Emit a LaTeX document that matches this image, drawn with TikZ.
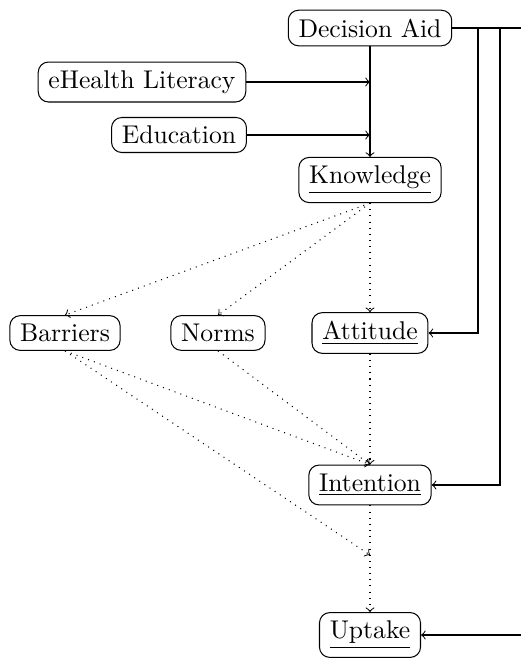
\documentclass[tikz,border=0pt]{standalone}
\begin{document}
\begin{tikzpicture}[x=0.39pt,y=-0.39pt,
  box/.style={draw,rounded corners=4pt,inner xsep=4pt,inner ysep=3.3pt,font=\normalsize},
  solidarrow/.style={->},
  dotarrow/.style={->,dotted}]
\useasboundingbox (0,0) rectangle (521,661);
\node[box] (da) at (370,28) {Decision Aid};
\node[box] (eh) at (142,82) {eHealth Literacy};
\node[box] (ed) at (179,135) {Education};
\node[box] (kn) at (370,180) {\underline{Knowledge}};
\node[box] (ba) at (65,333) {Barriers};
\node[box] (no) at (218,333) {Norms};
\node[box] (at) at (370,333) {\underline{Attitude}};
\node[box] (in) at (370,485) {\underline{Intention}};
\node[box] (up) at (370,635) {\underline{Uptake}};
\coordinate (ehj) at (kn.north |- eh.east);
\coordinate (edj) at (kn.north |- ed.east);
\coordinate (r1) at (478,0 |- da.east);
\coordinate (r2) at (500,0 |- da.east);
\coordinate (r3) at (524,0 |- da.east);
\coordinate (mid) at (370,555);
\draw[solidarrow] (da.south) -- (kn.north);
\draw[solidarrow] (eh.east) -- (ehj);
\draw[solidarrow] (ed.east) -- (edj);
\draw (da.east) -- (r3);
\draw[solidarrow] (r1) |- (at.east);
\draw[solidarrow] (r2) |- (in.east);
\draw[solidarrow] (r3) |- (up.east);
\draw[dotarrow] (kn.south) -- (at.north);
\draw[dotarrow] (kn.south) -- (ba.north);
\draw[dotarrow] (kn.south) -- (no.north);
\draw[dotarrow] (ba.south) -- (in.north);
\draw[dotarrow] (no.south) -- (in.north);
\draw[dotarrow] (at.south) -- (in.north);
\draw[dotarrow] (ba.south) -- (mid);
\draw[dotarrow] (in.south) -- (up.north);
\end{tikzpicture}
\end{document}
